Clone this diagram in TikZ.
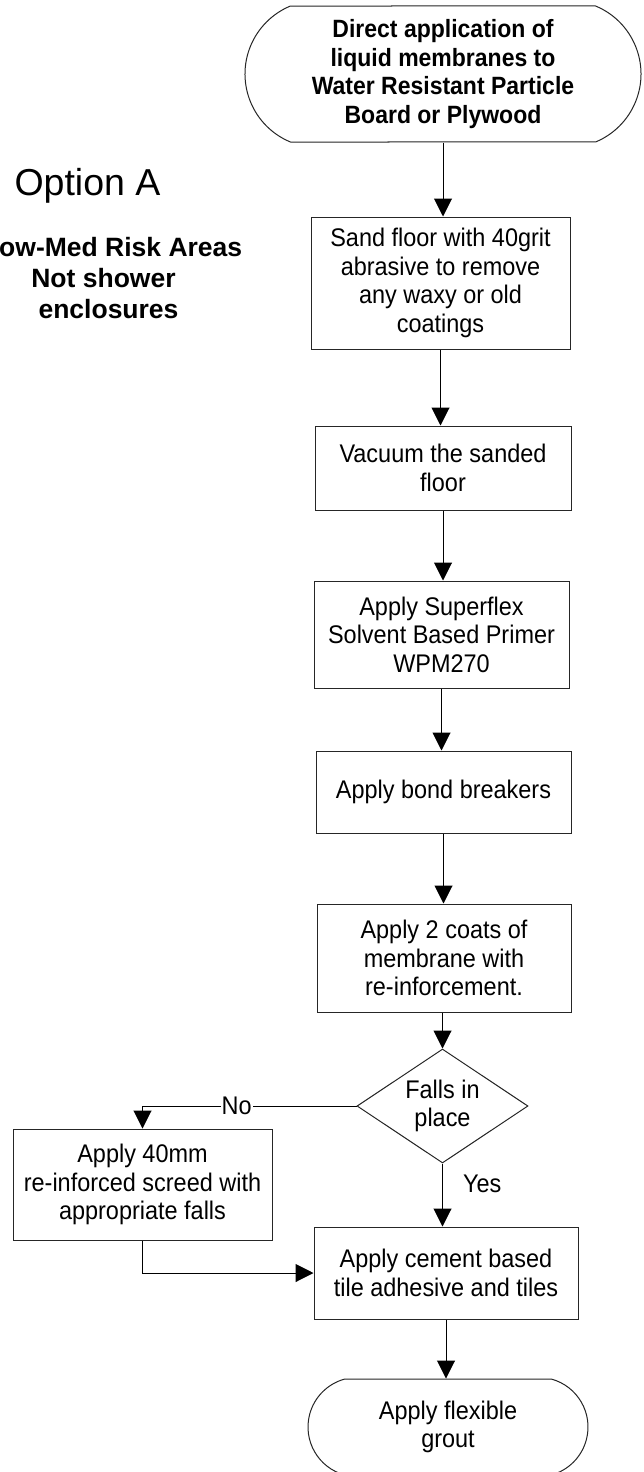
\documentclass[tikz,border=0pt]{standalone}
\usepackage{fontspec}
\setmainfont{Liberation Sans}
\newfontfamily\narrowfont{Liberation Sans}[FakeStretch=0.92]
\usetikzlibrary{arrows.meta,shapes.misc,shapes.geometric}
\begin{document}
\begin{tikzpicture}[x=1pt,y=1pt,
  line/.style={draw=black!85, line width=1pt},
  txt/.style={font=\narrowfont\fontsize{25.5}{28.5}\selectfont},
  box/.style={line, txt, rectangle, align=center, inner sep=0pt},
  term/.style={line, rounded rectangle, align=center, inner sep=0pt},
  dec/.style={line, txt, diamond, align=center, inner sep=0pt, shape aspect=1.5},
  arr/.style={draw=black, line width=1pt, -{Triangle[length=18pt,width=18pt]}},
  lbl/.style={txt, inner sep=0pt},
  side/.style={inner sep=0pt, font=\bfseries\fontsize{26.5}{31}\selectfont}
]
\useasboundingbox (0,0) rectangle (643,-1472);
\fill[white] (0,0) rectangle (643,-1472);

% side texts
\node[inner sep=0pt, anchor=base, font=\fontsize{37.5}{44}\selectfont] (opt) at (87.5,-195) {Option A};
\node[side, anchor=base west] (risk) at (-1,-256) {ow-Med Risk Areas};
\node[side, anchor=base] (notsh) at (103.5,-287) {Not shower};
\node[side, anchor=base] (encl) at (108.5,-318) {enclosures};

% flow nodes
\node[term, rounded rectangle arc length=135, minimum width=396pt, minimum height=136pt,
  font=\narrowfont\bfseries\fontsize{25}{28.5}\selectfont] (t1) at (443,-74)
  {Direct application of\\liquid membranes to\\Water Resistant Particle\\Board or Plywood};
\node[box, minimum width=259pt, minimum height=132pt] (b1) at (440.5,-283)
  {Sand floor with 40grit\\abrasive to remove\\any waxy or old\\coatings};
\node[box, minimum width=256pt, minimum height=84pt] (b2) at (443,-468)
  {Vacuum the sanded\\floor};
\node[box, minimum width=255pt, minimum height=107pt] (b3) at (441.5,-634.5)
  {Apply Superflex\\Solvent Based Primer\\WPM270};
\node[box, minimum width=255pt, minimum height=82pt] (b4) at (443.5,-792)
  {Apply bond breakers};
\node[box, minimum width=254pt, minimum height=108pt] (b5) at (444,-958)
  {Apply 2 coats of\\membrane with\\re-inforcement.};
\node[dec, minimum width=171pt, minimum height=114pt] (d) at (442.5,-1106)
  {Falls in\\place};
\node[box, minimum width=259pt, minimum height=111pt] (b6) at (142.5,-1184.5)
  {Apply 40mm\\re-inforced screed with\\appropriate falls};
\node[box, minimum width=264pt, minimum height=92pt] (b7) at (446,-1273)
  {Apply cement based\\tile adhesive and tiles};
\node[term, txt, rounded rectangle arc length=150, minimum width=280pt, minimum height=96pt] (t2) at (448,-1427)
  {Apply flexible\\grout};

% connectors
\draw[arr] (t1.south) -- (t1.south |- b1.north);
\draw[arr] (b1.south) -- (b1.south |- b2.north);
\draw[arr] (b2.south) -- (b2.south |- b3.north);
\draw[arr] (b3.south) -- (b3.south |- b4.north);
\draw[arr] (b4.south) -- (b4.south |- b5.north);
\draw[arr] (d.north |- b5.south) -- (d.north);
\draw[arr] (d.west) -| node[pos=0.28, txt, fill=white, inner sep=1pt] (no) {No} (b6.north);
\draw[arr] (d.south) -- node[pos=0.32, lbl, anchor=west, xshift=20pt] (yes) {Yes} (d.south |- b7.north);
\draw[arr] (b6.south) |- (b7.west);
\draw[arr] (b7.south) -- (b7.south |- t2.north);
\end{tikzpicture}
\end{document}
